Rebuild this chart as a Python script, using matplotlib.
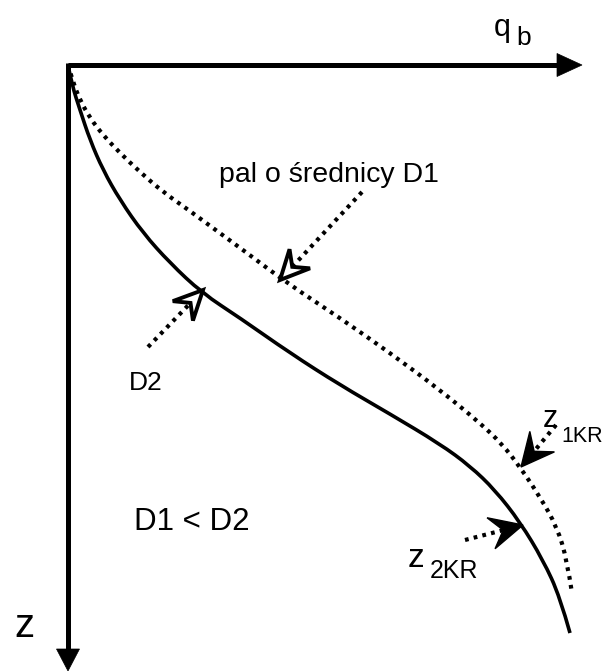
import numpy as np
import matplotlib
matplotlib.use("Agg")
import matplotlib.pyplot as plt
from matplotlib.path import Path
from matplotlib.patches import PathPatch, Polygon

plt.rcParams['font.family'] = ['Liberation Sans', 'DejaVu Sans']

# axis origin and extent (picture units, z grows downwards)
ORIGIN = (68, 65)
Q_MAX = 514      # tip of q_b arrow
Z_MAX = 606      # tip of z arrow

# pile D2 (solid) - q_b vs depth z
d2_q = [0, 4, 12, 22, 35, 52, 75, 102, 134, 172, 222, 272, 322, 372, 402, 427, 452, 475, 492, 502]
d2_z = [0, 20, 45, 75, 105, 135, 168, 198, 228, 253, 288, 320, 349, 379, 401, 425, 457, 495, 532, 568]

# pile D1 (dotted)
d1_q = [0, 5, 12, 22, 35, 52, 72, 95, 122, 149, 175, 219, 272, 322, 372, 412, 434, 452, 472, 489, 499, 504]
d1_z = [0, 17, 35, 53, 70, 88, 107, 127, 146, 166, 185, 218, 253, 288, 325, 358, 379, 402, 432, 462, 495, 528]

# pointer arrows: tail, tip, filled head
arrow_tails = [(294, 127), (80, 282), (488, 360), (397, 475)]
arrow_tips = [(212, 215), (135, 225), (453, 402), (455, 460)]
arrow_filled = [False, False, True, True]


def smooth_path(q, z):
    # quadratic b-spline through the read points (midpoint control scheme)
    pts = np.column_stack([q, z]).astype(float)
    verts = [pts[0]]
    codes = [Path.MOVETO]
    for i in range(1, len(pts) - 1):
        mid = (pts[i] + pts[i + 1]) / 2 if i < len(pts) - 2 else pts[i + 1]
        verts += [pts[i], mid]
        codes += [Path.CURVE3, Path.CURVE3]
    return Path(verts, codes)


def head(ax, tip, tail, length, half_w, filled, lw=2.0, notch=0.38):
    tip = np.array(tip, float)
    tail = np.array(tail, float)
    u = (tip - tail) / np.linalg.norm(tip - tail)
    n = np.array([-u[1], u[0]])
    base = tip - length * u
    nt = base + notch * length * u
    poly = [tip, base + half_w * n, nt, base - half_w * n]
    ax.add_patch(Polygon(poly, closed=True, facecolor='black' if filled else 'white',
                         edgecolor='black', lw=lw, joinstyle='miter', zorder=5))
    return nt


fig = plt.figure(figsize=(6.08, 6.71), dpi=100)
ax = fig.add_axes([0, 0, 1, 1])
ax.set_xlim(-ORIGIN[0], 608 - ORIGIN[0])
ax.set_ylim(671 - ORIGIN[1], -ORIGIN[1])
ax.axis('off')

# axes with arrows
ax.plot([0, Q_MAX - 22], [0, 0], color='black', lw=3.6, solid_capstyle='butt')
ax.plot([0, 0], [-2, Z_MAX - 20], color='black', lw=3.6, solid_capstyle='butt')
ax.add_patch(Polygon([(Q_MAX, 0), (Q_MAX - 25, -11.5), (Q_MAX - 25, 11.5)], closed=True,
                     facecolor='black', edgecolor='black', lw=0.5))
ax.add_patch(Polygon([(0, Z_MAX), (-11.5, Z_MAX - 22), (11.5, Z_MAX - 22)], closed=True,
                     facecolor='black', edgecolor='black', lw=0.5))

# curves
ax.add_patch(PathPatch(smooth_path(d2_q, d2_z), fill=False, lw=2.6, color='black',
                       capstyle='butt'))
ax.add_patch(PathPatch(smooth_path(d1_q, d1_z), fill=False, lw=3.0, color='black',
                       linestyle=(0, (0.9, 1.25))))

# pointer arrows
for tail, tip, filled in zip(arrow_tails, arrow_tips, arrow_filled):
    if filled:
        nt = head(ax, tip, tail, 33, 16, True, lw=1.0)
    else:
        nt = head(ax, tip, tail, 29, 14, False, lw=2.8)
    ax.plot([tail[0], nt[0]], [tail[1], nt[1]], color='black', lw=3.0,
            linestyle=(0, (0.9, 1.25)), zorder=4)

# labels
ox, oy = ORIGIN
ax.text(494 - ox, 36 - oy, 'q', fontsize=22, va='baseline', ha='left')
ax.text(516 - ox, 45 - oy, 'b', fontsize=19, va='baseline', ha='left')
ax.text(14 - ox, 637 - oy, 'z', fontsize=29, va='baseline', ha='left')
ax.text(219 - ox, 182 - oy, 'pal o średnicy D1', fontsize=20.5, va='baseline', ha='left')
ax.text(129 - ox, 390 - oy, 'D2', fontsize=19, va='baseline', ha='left')
ax.text(134 - ox, 530 - oy, 'D1 < D2', fontsize=22.5, va='baseline', ha='left')
ax.text(543 - ox, 427 - oy, 'z', fontsize=22, va='baseline', ha='left')
ax.text(561 - ox, 442 - oy, '1KR', fontsize=15.5, va='baseline', ha='left')
ax.text(408 - ox, 567 - oy, 'z', fontsize=24, va='baseline', ha='left')
ax.text(430 - ox, 578 - oy, '2KR', fontsize=18, va='baseline', ha='left')

fig.savefig('out.png', dpi=100)
